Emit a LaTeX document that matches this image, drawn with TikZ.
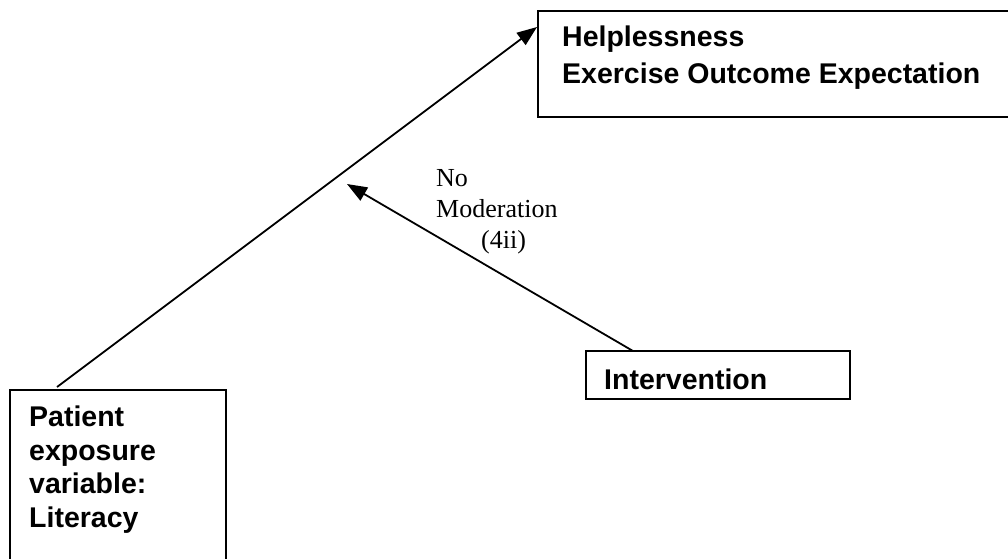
\documentclass[tikz,border=0pt]{standalone}
\usepackage{fontspec}
\setmainfont{Liberation Serif}
\setsansfont{Liberation Sans}
\usetikzlibrary{arrows.meta}
\begin{document}
\begin{tikzpicture}[x=1pt,y=-1pt,
  box/.style={draw=black,line width=2pt},
  boxtext/.style={font=\sffamily\bfseries\fontsize{28.5}{33.5}\selectfont,inner sep=0pt,anchor=base west,align=left},
  note/.style={font=\fontsize{26}{31}\selectfont,inner sep=0pt,anchor=base west,align=left},
  link/.style={line width=1.8pt,-{Triangle[length=20pt,width=15pt]}}]
  \useasboundingbox (0,0) rectangle (1008,558);
  \fill[white] (0,0) rectangle (1008,558);
  % boxes (two of them run past the page edge)
  \draw[box] (538,11) rectangle (1014,117);
  \draw[box] (10,390) rectangle (226,566);
  \draw[box] (586,351) rectangle (850,399);
  % box texts
  \node[boxtext] (outcome) at (562,46) {Helplessness};
  \node[boxtext] (outcome2) at (562,83) {Exercise Outcome Expectation};
  % multi-line node: its base anchor sits on the last line
  \node[boxtext] (patient) at (29,527) {Patient\\exposure\\variable:\\Literacy};
  \node[boxtext] (interv) at (604,389) {Intervention};
  % connector end points
  \coordinate (pstart) at (57,387);
  \coordinate (ptip) at (537,27);
  \coordinate (istart) at (633,351);
  \coordinate (itip) at (347,184);
  \draw[link] (pstart) -- (ptip);
  \draw[link] (istart) -- (itip);
  % moderation label
  \node[note] (no) at (436,186) {No};
  \node[note] (mod) at (436,217) {Moderation};
  \node[note] (code) at (481,248) {(4ii)};
\end{tikzpicture}
\end{document}
